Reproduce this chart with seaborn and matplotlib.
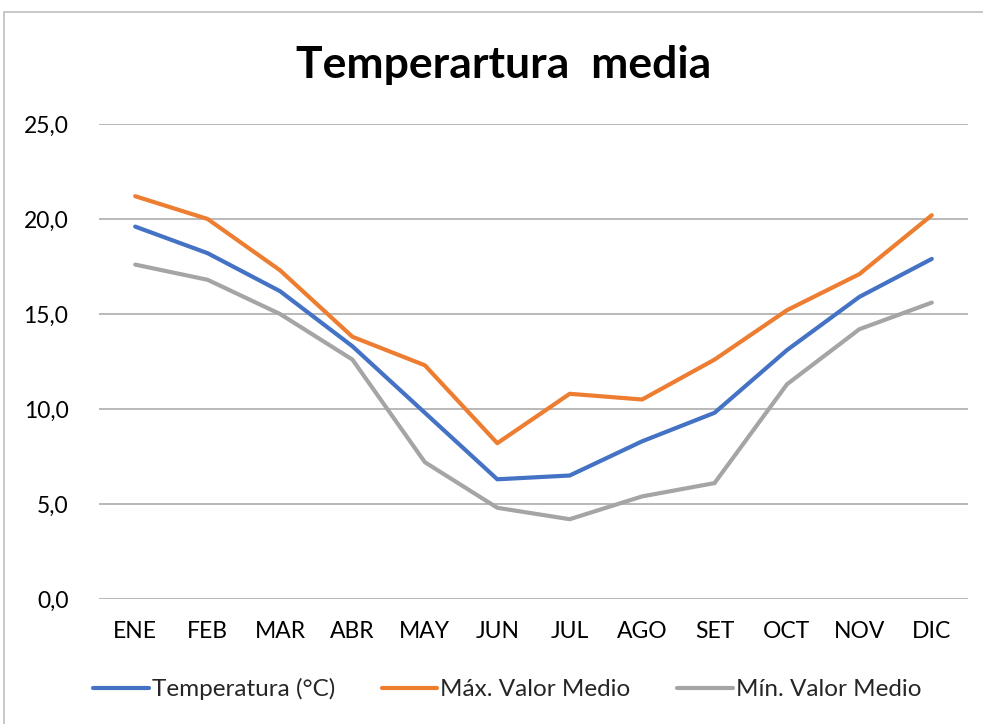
import pandas as pd
import matplotlib.pyplot as plt
import seaborn as sns
from matplotlib.patches import Rectangle
from matplotlib.ticker import FuncFormatter

# Datos
meses = ['ENE', 'FEB', 'MAR', 'ABR', 'MAY', 'JUN', 'JUL', 'AGO', 'SET', 'OCT', 'NOV', 'DIC']
temp_media = [19.6, 18.2, 16.2, 13.3, 9.8, 6.3, 6.5, 8.3, 9.8, 13.1, 15.9, 17.9]
max_medio = [21.2, 20.0, 17.3, 13.8, 12.3, 8.2, 10.8, 10.5, 12.6, 15.2, 17.1, 20.2]
min_medio = [17.6, 16.8, 15.0, 12.6, 7.2, 4.8, 4.2, 5.4, 6.1, 11.3, 14.2, 15.6]
series = ['Temperatura (°C)', 'Máx. Valor Medio', 'Mín. Valor Medio']
colores = ['#4472C4', '#ED7D31', '#A5A5A5']

df = pd.DataFrame({'mes': meses * 3,
                   'valor': temp_media + max_medio + min_medio,
                   'serie': [s for s in series for _ in meses]})

sns.set_style('white')
plt.rcParams['font.family'] = ['Lato', 'DejaVu Sans']

fig = plt.figure(figsize=(9.83, 7.24), dpi=100)
ax = fig.add_axes([99 / 983, 1 - 599 / 724, 869 / 983, 475 / 724])

sns.lineplot(data=df, x='mes', y='valor', hue='serie', palette=colores,
             sort=False, linewidth=3, ax=ax, legend=False)

ax.set_xlim(-0.5, len(meses) - 0.5)
ax.set_ylim(0, 25)
ax.set_yticks([0, 5, 10, 15, 20, 25])
ax.yaxis.set_major_formatter(FuncFormatter(lambda v, p: f'{v:.1f}'.replace('.', ',')))
ax.grid(axis='y', color='#A6A6A6', linewidth=1.1)
ax.set_axisbelow(True)
for s in ax.spines.values():
    s.set_visible(False)
ax.tick_params(axis='both', length=0, labelsize=16.5, colors='black')
ax.tick_params(axis='x', pad=16)
ax.tick_params(axis='y', pad=22)
ax.set_xlabel('')
ax.set_ylabel('')

fig.text(0.512, 1 - 65 / 724, 'Temperartura  media', ha='center', va='center',
         fontsize=32, fontweight='bold', color='black')

handles = [plt.Line2D([], [], color=c, linewidth=3) for c in colores]
fig.legend(handles, series, loc='center', bbox_to_anchor=(0.516, 1 - 689 / 724),
           ncol=3, frameon=False, fontsize=17.5, handlelength=2.3,
           handletextpad=0.12, columnspacing=1.9)

# borde del area del grafico
fig.patches.append(Rectangle((4 / 983, -0.01), 1.0, 1 - 12 / 724 + 0.01,
                             transform=fig.transFigure, fill=False,
                             edgecolor='#BFBFBF', linewidth=1.2))

plt.savefig('out.png', dpi=100)
plt.close()
